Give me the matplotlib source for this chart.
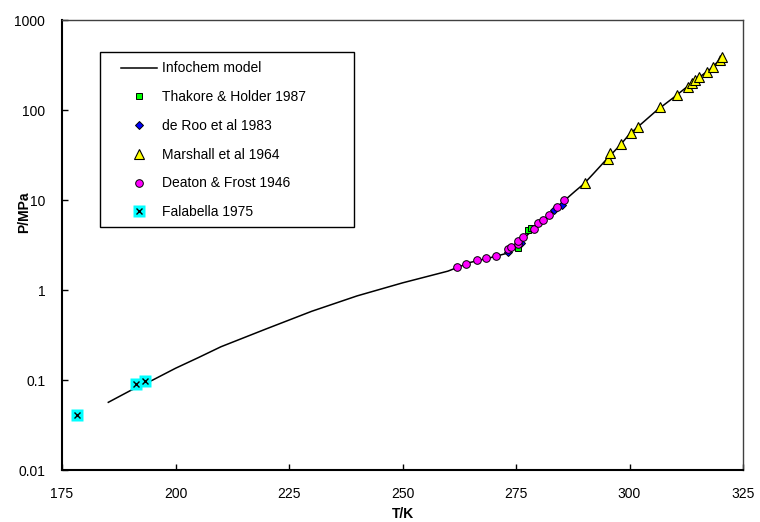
import matplotlib
matplotlib.use('Agg')
import matplotlib.pyplot as plt
from matplotlib.lines import Line2D
from matplotlib.patches import Rectangle
from matplotlib.ticker import NullLocator

plt.rcParams['font.family'] = ['Liberation Sans', 'DejaVu Sans']
plt.rcParams['font.size'] = 10

# ---- data ----
model_T = [185.2, 190, 195, 200, 205, 210, 220, 230, 240, 250, 260, 265, 270, 272.9,
           274, 276, 278, 280, 282, 284, 286, 288, 290, 292, 295, 298, 300, 303, 306,
           310, 314, 318, 320.5]
model_P = [0.0565, 0.076, 0.100, 0.135, 0.177, 0.234, 0.37, 0.58, 0.86, 1.20, 1.62, 2.03,
           2.33, 2.55, 2.9, 3.5, 4.3, 5.3, 6.55, 8.1, 10.2, 12.5, 15.2, 19.5, 28.5, 41.0,
           54, 73, 99, 141, 205, 290, 390]

thakore_T = [275.4, 277.7, 278.3]
thakore_P = [2.9, 4.6, 4.9]

deroo_T = [273.3, 276.2, 283.3, 285.1]
deroo_P = [2.65, 3.3, 7.7, 8.8]

marshall_T = [290.2, 295.2, 295.7, 298.1, 300.3, 301.8, 306.7, 310.4, 312.8, 313.7,
              314.4, 315.2, 317.0, 318.5, 319.9, 320.3]
marshall_P = [15.3, 28.5, 33, 41.9, 56, 64, 107, 147, 179, 198, 215, 231, 267, 303, 359, 385]

deaton_T = [262.1, 263.9, 266.3, 268.4, 270.7, 273.3, 274.0, 275.4, 275.5, 276.6, 279.0,
            279.9, 281.0, 282.3, 284.1, 285.6]
deaton_P = [1.82, 1.96, 2.14, 2.25, 2.39, 2.88, 2.98, 3.27, 3.5, 3.9, 4.72, 5.5, 6.0, 6.8,
            8.4, 10.0]

falabella_T = [178.2, 191.3, 193.3]
falabella_P = [0.041, 0.0895, 0.0985]

x_ticks = [175, 200, 225, 250, 275, 300, 325]
y_ticks = [0.01, 0.1, 1, 10, 100, 1000]
y_tick_labels = ['0.01', '0.1', '1', '10', '100', '1000']

# ---- figure ----
W, H = 760, 522
fig = plt.figure(figsize=(W / 100, H / 100), dpi=100)
ax = fig.add_axes([62 / W, 52 / H, 681 / W, 450 / H])

line, = ax.plot(model_T, model_P, color='black', lw=1.1, zorder=2)
h_th, = ax.plot(thakore_T, thakore_P, ls='none', marker='s', ms=5, mfc='#00FF00',
                mec='black', mew=0.7, zorder=3)
h_dr, = ax.plot(deroo_T, deroo_P, ls='none', marker='D', ms=4.5, mfc='#0000FF',
                mec='black', mew=0.7, zorder=3)
h_ma, = ax.plot(marshall_T, marshall_P, ls='none', marker='^', ms=6.5, mfc='#FFFF00',
                mec='black', mew=0.8, zorder=4)
h_de, = ax.plot(deaton_T, deaton_P, ls='none', marker='o', ms=5.5, mfc='#FF00FF',
                mec='black', mew=0.7, zorder=4)
h_fa1, = ax.plot(falabella_T, falabella_P, ls='none', marker='s', ms=8.5, mfc='#00FFFF',
                 mec='none', zorder=4)
h_fa2, = ax.plot(falabella_T, falabella_P, ls='none', marker='x', ms=4, mec='black',
                 mew=1.0, zorder=5)

ax.set_xlim(175, 325)
ax.set_yscale('log')
ax.set_ylim(0.01, 1000)
ax.set_xticks(x_ticks)
ax.set_xticklabels([str(t) for t in x_ticks])
ax.set_yticks(y_ticks)
ax.set_yticklabels(y_tick_labels)
ax.yaxis.set_minor_locator(NullLocator())
ax.tick_params(direction='in', length=4, width=1, pad=12, labelsize=10)

for s in ['left', 'bottom']:
    ax.spines[s].set_linewidth(1.5)
    ax.spines[s].set_color('black')
for s in ['top', 'right']:
    ax.spines[s].set_linewidth(1.0)
    ax.spines[s].set_color('#404040')

ax.set_xlabel('T/K', fontweight='bold', fontsize=10)
ax.set_ylabel('P/MPa', fontweight='bold', fontsize=10)
ax.xaxis.set_label_coords(0.5, -0.082)
ax.yaxis.set_label_coords(-0.046, 0.573)

handles = [line, h_th, h_dr, h_ma, h_de, (h_fa1, h_fa2)]
labels = ['Infochem model', 'Thakore & Holder 1987', 'de Roo et al 1983',
          'Marshall et al 1964', 'Deaton & Frost 1946', 'Falabella 1975']
leg = ax.legend(handles, labels, loc='upper left', bbox_to_anchor=(121 / W, 1 - 61.5 / H),
                bbox_transform=fig.transFigure, frameon=False, borderpad=0,
                borderaxespad=0, handlelength=2.6, handletextpad=0.35,
                labelspacing=1.06, fontsize=10)
fig.add_artist(Rectangle((100 / W, 1 - 227 / H), 254 / W, 175 / H,
                         transform=fig.transFigure, fill=False, ec='black', lw=1.0))

fig.savefig('out.png', dpi=100)
